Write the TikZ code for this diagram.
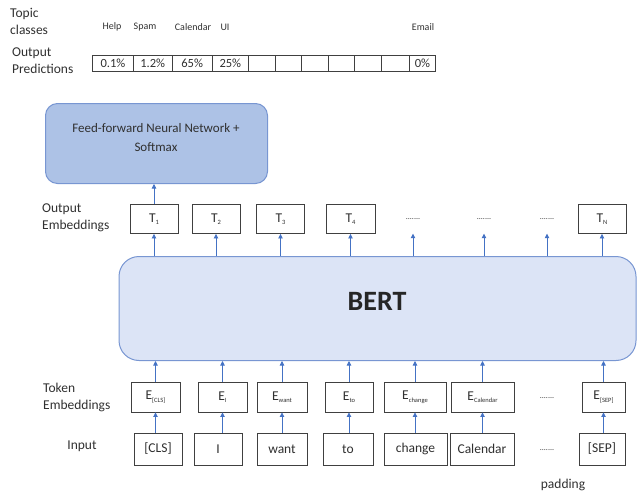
\documentclass[tikz,border=0pt]{standalone}
\usepackage{fontspec}
\setmainfont{Carlito}
\usetikzlibrary{arrows.meta,positioning,calc}
\definecolor{arrowblue}{HTML}{4472C4}
\definecolor{ffnnfill}{HTML}{ADC2E6}
\definecolor{bertfill}{HTML}{DCE4F6}
\definecolor{boxedge}{HTML}{7896D2}
\definecolor{txt}{HTML}{303030}
\tikzset{
  wbox/.style={draw=black!75, line width=0.9pt, fill=white, inner sep=0pt, text=txt, font=\fontsize{13.5}{14}\selectfont},
  cell/.style={draw=black!75, line width=0.8pt, inner sep=0pt, minimum height=16pt, text=txt, font=\fontsize{12.5}{13}\selectfont},
  lbl/.style={align=left, inner sep=0pt, text=txt, font=\fontsize{13.5}{17}\selectfont},
  cls/.style={inner sep=0pt, text=txt, font=\fontsize{10}{11}\selectfont},
  dots/.style={inner sep=0pt, text=txt, font=\fontsize{8}{9}\selectfont},
  up/.style={draw=arrowblue, line width=0.8pt, -{Triangle[width=4.5pt,length=4.5pt]}}
}
\newcommand{\sbt}[1]{\raisebox{-0.4ex}{\fontsize{6.5}{6.5}\selectfont #1}}
\begin{document}
\begin{tikzpicture}[x=1pt,y=-1pt]
\useasboundingbox (0,0) rectangle (637,495);
% Topic classes
\node[lbl, anchor=west] (topic) at (10,21.5) {Topic\\classes};
\node[cls] (help) at (112,27) {Help};
\node[cls] (spam) at (145,27) {Spam};
\node[cls] (cal) at (193,27) {Calendar};
\node[cls] (ui) at (225,27) {UI};
\node[cls] (email) at (423,27) {Email};
% Output predictions
\node[lbl, anchor=west] (outpred) at (12,60.5) {Output\\Predictions};
\foreach \a/\b/\t [count=\i] in {92.7/133.3/0.1\%,133.3/172/1.2\%,172/212.3/65\%,212.3/248.3/25\%,248.3/275.3/,275.3/301.7/,301.7/328.3/,328.3/354.3/,354.3/381/,381/409.3/,409.3/435.7/0\%}{
  \pgfmathsetmacro{\w}{\b-\a}
  \pgfmathsetmacro{\c}{(\a+\b)/2}
  \node[cell, minimum width=\w pt] (c\i) at (\c,63.5) {\t};
}
% FFNN
\node[draw=boxedge, line width=1pt, fill=ffnnfill, rounded corners=12pt, minimum width=222pt, minimum height=80pt, inner sep=0pt,
      anchor=north west] (ffnn) at (45,103) {};
\node[text=txt, font=\fontsize{13}{19}\selectfont, align=center, inner sep=0pt] (ffnntxt) at (156,137.5) {Feed-forward Neural Network +\\Softmax};
% Output embeddings
\node[lbl, anchor=west] (outemb) at (42,217.5) {Output\\Embeddings};
\node[wbox, minimum width=48pt, minimum height=29pt] (t1) at (154,219) {T\sbt{1}};
\node[wbox, minimum width=48pt, minimum height=29pt] (t2) at (216,219) {T\sbt{2}};
\node[wbox, minimum width=48pt, minimum height=29pt] (t3) at (280.5,219) {T\sbt{3}};
\node[wbox, minimum width=49pt, minimum height=29pt] (t4) at (350.5,219) {T\sbt{4}};
\node[dots, minimum height=29pt] (d1) at (413,219) {.......};
\node[dots, minimum height=29pt] (d2) at (484,219) {.......};
\node[dots, minimum height=29pt] (d3) at (547,219) {.......};
\node[wbox, minimum width=48pt, minimum height=29pt] (tn) at (602,219) {T\sbt{N}};
% BERT
\node[draw=boxedge, line width=1pt, fill=bertfill, rounded corners=20pt, minimum width=517pt, minimum height=104pt, inner sep=0pt,
      anchor=north west] (bert) at (118.5,256) {};
\node[font=\fontsize{28}{28}\selectfont\bfseries, text=black!85, inner sep=0pt] (berttxt) at (377,301) {BERT};
% Token embeddings
\node[lbl, anchor=west] (tokemb) at (43,397.5) {Token\\Embeddings};
\node[wbox, minimum width=49pt, minimum height=30pt] (e1) at (155.5,397) {E\sbt{[CLS]}};
\node[wbox, minimum width=49pt, minimum height=30pt] (e2) at (222.5,397) {E\sbt{I}};
\node[wbox, minimum width=50pt, minimum height=30pt] (e3) at (282,397) {E\sbt{want}};
\node[wbox, minimum width=48pt, minimum height=30pt] (e4) at (349,397) {E\sbt{to}};
\node[wbox, minimum width=62pt, minimum height=30pt] (e5) at (415,397) {E\sbt{change}};
\node[wbox, minimum width=63pt, minimum height=30pt] (e6) at (482.5,397) {E\sbt{Calendar}};
\node[dots] (ed) at (547,398) {.......};
\node[wbox, minimum width=43pt, minimum height=30pt] (e7) at (603.5,397) {E\sbt{[SEP]}};
% Input
\node[lbl, anchor=center] (inlbl) at (82,446) {Input};
\node[wbox, minimum width=48pt, minimum height=32pt] (i1) at (158,449) {[CLS]};
\node[wbox, minimum width=48pt, minimum height=32pt] (i2) at (218,449) {I};
\node[wbox, minimum width=50pt, minimum height=32pt] (i3) at (282,449) {want};
\node[wbox, minimum width=50pt, minimum height=32pt] (i4) at (348,449) {to};
\node[wbox, minimum width=63pt, minimum height=32pt] (i5) at (415.5,449) {change};
\node[wbox, minimum width=64pt, minimum height=32pt] (i6) at (482,449) {Calendar};
\node[dots] (id) at (547,450) {.......};
\node[wbox, minimum width=46pt, minimum height=32pt] (i7) at (602,449) {[SEP]};
\node[lbl, anchor=center] (pad) at (563,485) {padding};
% arrows input -> E
\foreach \k in {1,...,7}{
  \draw[up] (i\k.north -| e\k.south) -- (e\k.south);
}
% arrows E -> BERT
\foreach \k in {1,...,7}{
  \draw[up] (e\k.north) -- (e\k.north |- bert.south);
}
% arrows BERT -> T
\foreach \n in {t1,t2,t3,t4,d1,d2,d3,tn}{
  \draw[up] (bert.north -| \n.south) -- (\n.south);
}
% T1 -> FFNN
\draw[up] (t1.north) -- (t1.north |- ffnn.south);
\end{tikzpicture}
\end{document}
